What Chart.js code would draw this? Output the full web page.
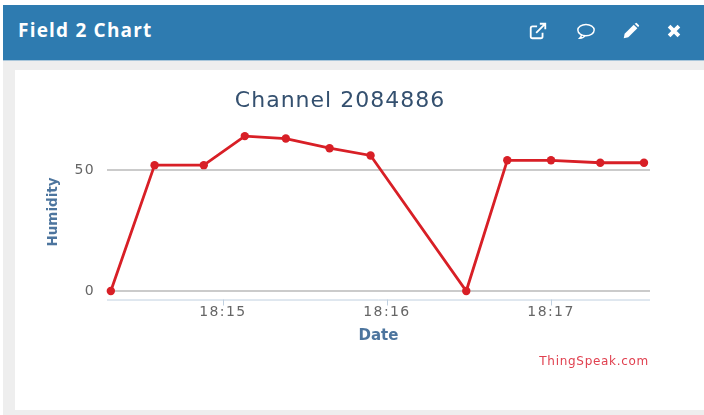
<!DOCTYPE html>
<html>
<head>
<meta charset="utf-8">
<script src="https://cdn.jsdelivr.net/npm/chart.js@4"></script>
<style>
html,body{margin:0;padding:0;background:#fff;width:704px;height:415px;overflow:hidden;font-family:"DejaVu Sans",sans-serif}
#body{position:absolute;left:3px;top:5px;width:701px;height:410px;background:#eee}
#head{position:absolute;left:3px;top:5px;width:701px;height:56px;background:#2e7bb0;border-bottom:1px solid #a9c6da;box-sizing:border-box}
#head .t{position:absolute;left:15px;top:13px;color:#fff;font:bold 19px "Open Sans",sans-serif;letter-spacing:1.2px;line-height:24px}
#head svg{position:absolute}
#panel{position:absolute;left:15px;top:70px;width:689px;height:340px;background:#fff}
#c{position:absolute;left:15px;top:70px}
#brand{position:absolute;right:55px;top:354px;color:#e0404f;font:12px "DejaVu Sans",sans-serif;letter-spacing:.7px}
</style>
</head>
<body>
<div id="body"></div>
<div id="head">
  <svg style="left:525px;top:16px;width:20px;height:20px" viewBox="0 0 22 22" fill="none" stroke="#fff" stroke-width="2"><path d="M16 13v4a2 2 0 0 1-2 2H5a2 2 0 0 1-2-2V8a2 2 0 0 1 2-2h5"/><path d="M9 13L18 4M13 3h6v6"/></svg>
  <svg style="left:572px;top:16px;width:22px;height:20px" viewBox="0 0 22 22" fill="none" stroke="#fff" stroke-width="1.6"><ellipse cx="11" cy="10" rx="9" ry="6.2"/><path d="M6 15c0 2-1 3-2 4 3 0 5-1 6-3"/></svg>
  <svg style="left:618px;top:16px;width:20px;height:20px" viewBox="0 0 22 22" fill="#fff"><path d="M3 19l1-5L14 4l4 4L8 18z"/><path d="M15 3l2-1 3 3-1 2z"/></svg>
  <svg style="left:662px;top:17px;width:18px;height:18px" viewBox="0 0 22 22" fill="none" stroke="#fff" stroke-width="4.6"><path d="M5 5l12 12M17 5L5 17"/></svg>
  <div class="t">Field 2 Chart</div>
</div>
<div id="panel"></div>
<canvas id="c" width="689" height="340"></canvas>
<div id="brand">ThingSpeak.com</div>
<script>
// Seconds since 18:00:00
const times = [859, 875, 893, 908, 923, 939, 954, 989, 1004, 1020, 1038, 1054];
const humidity = [0, 52, 52, 64, 63, 59, 56, 0, 54, 54, 53, 53];
const xTickValues = [900, 960, 1020];
const xTickLabels = ['18:15', '18:16', '18:17'];
const yTickValues = [0, 50];

const labelFor = v => xTickLabels[xTickValues.indexOf(v)] ?? '';

// Runs a box's draw method with a given canvas letter spacing.
function spaced(obj, method, ctx, spacing) {
  const original = obj[method];
  obj[method] = function (...args) {
    ctx.save();
    ctx.letterSpacing = spacing;
    original.apply(obj, args);
    ctx.restore();
  };
}

new Chart(document.getElementById('c'), {
  type: 'line',
  data: {
    datasets: [{
      data: times.map((t, i) => ({x: t, y: humidity[i]})),
      borderColor: '#d81f26',
      backgroundColor: '#d81f26',
      borderWidth: 2.8,
      pointRadius: 4.2,
      pointBorderWidth: 0,
      pointHoverRadius: 4.2,
      tension: 0,
      clip: false
    }]
  },
  options: {
    responsive: false,
    animation: false,
    layout: {padding: {left: 15, right: 54, top: 0, bottom: 64.5}},
    plugins: {
      legend: {display: false},
      tooltip: {enabled: false},
      title: {
        display: true,
        text: 'Channel 2084886',
        color: '#34506f',
        font: {family: '"DejaVu Sans"', size: 22, weight: 'normal'},
        padding: {top: 18, bottom: 10.1}
      }
    },
    scales: {
      x: {
        type: 'linear',
        min: 857.6,
        max: 1056.2,
        afterBuildTicks: s => { s.ticks = xTickValues.map(v => ({value: v})); },
        afterFit: s => { s.height = 46; },
        grid: {display: false, drawTicks: false},
        border: {display: false},
        ticks: {
          color: '#666',
          font: {family: '"DejaVu Sans"', size: 14},
          maxRotation: 0,
          autoSkip: false,
          padding: 4,
          callback: v => labelFor(v)
        },
        title: {
          display: true,
          text: 'Date',
          color: '#4d759e',
          font: {family: '"DejaVu Sans"', size: 15, weight: 'bold'},
          padding: {top: 6, bottom: 0}
        }
      },
      y: {
        min: -3.5,
        max: 68.8,
        afterBuildTicks: s => { s.ticks = yTickValues.map(v => ({value: v})); },
        afterFit: s => { s.width = 77; },
        grid: {color: '#cbcbcb', lineWidth: 2, drawTicks: false},
        border: {display: false},
        ticks: {
          color: '#666',
          font: {family: '"DejaVu Sans"', size: 14},
          padding: 12
        },
        title: {
          display: true,
          text: 'Humidity',
          color: '#4d759e',
          font: {family: '"DejaVu Sans"', size: 13.5, weight: 'bold'},
          padding: {top: 15, bottom: 6}
        }
      }
    }
  },
  plugins: [{
    id: 'textSpacing',
    afterLayout(chart) {
      if (chart.$spaced) return;
      chart.$spaced = true;
      spaced(chart.titleBlock, 'draw', chart.ctx, '1px');
      spaced(chart.scales.x, 'drawLabels', chart.ctx, '1.4px');
      spaced(chart.scales.y, 'drawLabels', chart.ctx, '1.4px');
    }
  }, {
    id: 'xAxisLine',
    beforeDatasetsDraw(chart) {
      const {ctx, chartArea: a, scales: {x}} = chart;
      ctx.save();
      ctx.strokeStyle = '#c0d0e0';
      ctx.lineWidth = 1;
      ctx.beginPath();
      ctx.moveTo(a.left, a.bottom + .5);
      ctx.lineTo(a.right, a.bottom + .5);
      xTickValues.forEach(v => {
        const px = Math.round(x.getPixelForValue(v)) + .5;
        ctx.moveTo(px, a.bottom);
        ctx.lineTo(px, a.bottom + 6);
      });
      ctx.stroke();
      ctx.restore();
    }
  }]
});
</script>
</body>
</html>
